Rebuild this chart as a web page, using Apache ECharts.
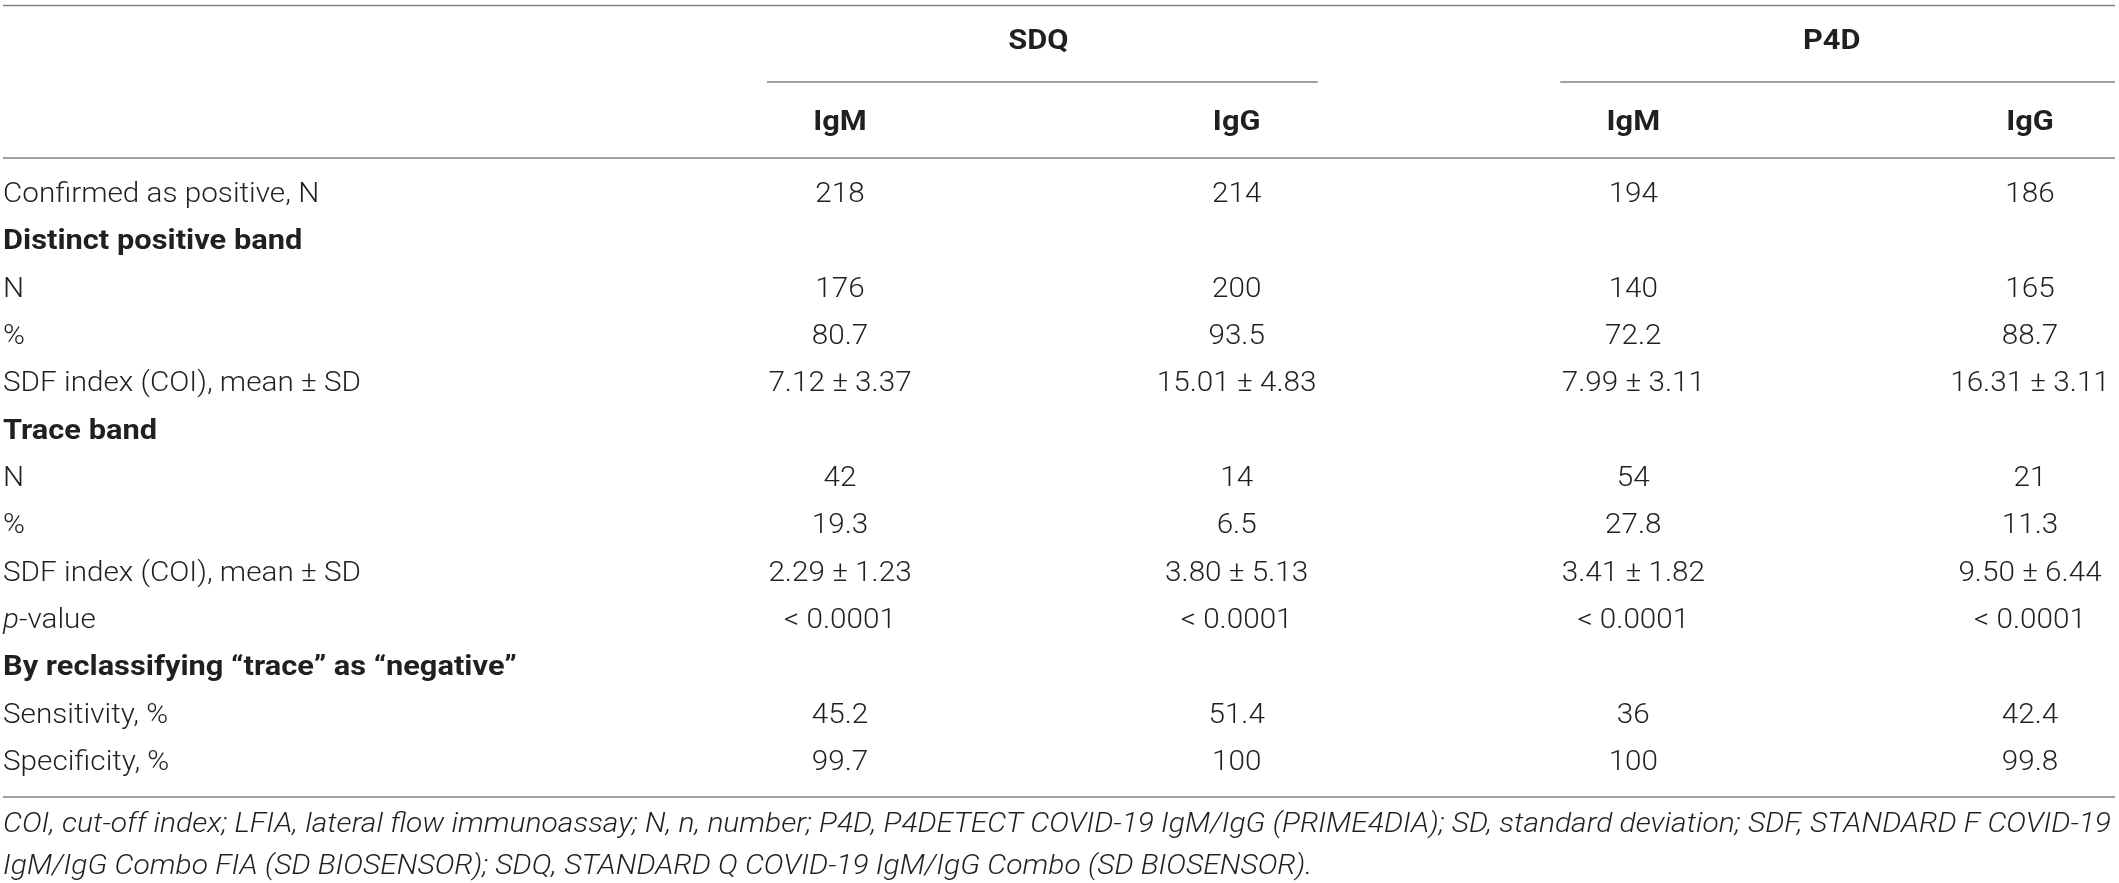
<!DOCTYPE html>
<html>
<head>
<meta charset="utf-8">
<script src="https://cdn.jsdelivr.net/npm/echarts@6/dist/echarts.min.js"></script>
<style>
html,body{margin:0;padding:0;background:#fff;}
#main{width:2119px;height:883px;}
</style>
</head>
<body>
<div id="main"></div>
<script>
// table content
var groups = ['SDQ', 'P4D'];
var columns = ['IgM', 'IgG', 'IgM', 'IgG'];
var rowLabels = [
    'Confirmed as positive, N',
    'Distinct positive band',
    'N',
    '%',
    'SDF index (COI), mean \u00b1 SD',
    'Trace band',
    'N',
    '%',
    'SDF index (COI), mean \u00b1 SD',
    '{i|p}-value',
    'By reclassifying \u201ctrace\u201d as \u201cnegative\u201d',
    'Sensitivity, %',
    'Specificity, %'
];
var boldRows = [1, 5, 10];
var sdqIgM = ['218', '', '176', '80.7', '7.12 \u00b1 3.37', '', '42', '19.3', '2.29 \u00b1 1.23', '< 0.0001', '', '45.2', '99.7'];
var sdqIgG = ['214', '', '200', '93.5', '15.01 \u00b1 4.83', '', '14', '6.5', '3.80 \u00b1 5.13', '< 0.0001', '', '51.4', '100'];
var p4dIgM = ['194', '', '140', '72.2', '7.99 \u00b1 3.11', '', '54', '27.8', '3.41 \u00b1 1.82', '< 0.0001', '', '36', '100'];
var p4dIgG = ['186', '', '165', '88.7', '16.31 \u00b1 3.11', '', '21', '11.3', '9.50 \u00b1 6.44', '< 0.0001', '', '42.4', '99.8'];
var footLines = [
    'COI, cut-off index; LFIA, lateral flow immunoassay; N, n, number; P4D, P4DETECT COVID-19 IgM/IgG (PRIME4DIA); SD, standard deviation; SDF, STANDARD F COVID-19',
    'IgM/IgG Combo FIA (SD BIOSENSOR); SDQ, STANDARD Q COVID-19 IgM/IgG Combo (SD BIOSENSOR).'
];

var FONT = 'Roboto, "Liberation Sans", sans-serif';
var TXT = '#231f20';
var LINE = '#808080';
// the original face is a little wider than Roboto, so stretch text sideways
var SX_LIGHT = 1.06, SX_BOLD = 1.1, SX_FOOT = 1.11;

var colValues = [sdqIgM, sdqIgG, p4dIgM, p4dIgG];
var cellData = [];
for (var c = 0; c < colValues.length; c++) {
    for (var r = 0; r < colValues[c].length; r++) {
        if (colValues[c][r] !== '') cellData.push([c, r, colValues[c][r]]);
    }
}
var labelData = [];
for (var i = 0; i < rowLabels.length; i++) labelData.push([0, i, rowLabels[i]]);

var myChart = echarts.init(document.getElementById('main'));

var option = {
    backgroundColor: '#fff',
    animation: false,
    grid: { left: 840, right: 89, top: 195, bottom: 120 },
    xAxis: {
        type: 'category',
        data: [0, 1, 2, 3],
        boundaryGap: false,
        show: false
    },
    yAxis: {
        type: 'category',
        data: rowLabels.map(function (d, i) { return i; }),
        inverse: true,
        boundaryGap: false,
        show: false
    },
    series: [{
        type: 'custom',
        data: cellData,
        renderItem: function (params, api) {
            var p = api.coord([api.value(0), api.value(1)]);
            return {
                type: 'text',
                x: p[0], y: p[1],
                scaleX: SX_LIGHT,
                style: {
                    text: cellData[params.dataIndex][2],
                    align: 'center', verticalAlign: 'middle',
                    font: '300 28px ' + FONT,
                    fill: TXT
                }
            };
        }
    }, {
        type: 'custom',
        data: labelData,
        renderItem: function (params, api) {
            var p = api.coord([0, api.value(1)]);
            var idx = params.dataIndex;
            var bold = boldRows.indexOf(idx) >= 0;
            return {
                type: 'text',
                x: 3, y: p[1],
                scaleX: bold ? SX_BOLD : SX_LIGHT,
                style: {
                    text: labelData[idx][2],
                    align: 'left', verticalAlign: 'middle',
                    font: (bold ? 'bold' : '300') + ' 28px ' + FONT,
                    fill: TXT,
                    rich: {
                        i: { font: 'italic 300 28px ' + FONT, fill: TXT }
                    }
                }
            };
        }
    }]
};
myChart.setOption(option);

// header and rules, placed from the axis positions
var colX = columns.map(function (d, i) { return myChart.convertToPixel({ gridIndex: 0 }, [i, 0])[0]; });
var firstRowY = myChart.convertToPixel({ gridIndex: 0 }, [0, 0])[1];
var lastRowY = myChart.convertToPixel({ gridIndex: 0 }, [0, rowLabels.length - 1])[1];
var gfx = [];
function rule(x1, x2, y) {
    gfx.push({ type: 'line', shape: { x1: x1, y1: y, x2: x2, y2: y }, style: { stroke: LINE, lineWidth: 1.5 } });
}
function txt(s, x, y, font, align, sx) {
    gfx.push({ type: 'text', x: x, y: y, scaleX: sx || 1, style: { text: s, font: font, fill: TXT, align: align || 'center', verticalAlign: 'middle' } });
}
rule(3, 2115, 5.5);
rule(3, 2115, firstRowY - 37);
rule(3, 2115, lastRowY + 34);
for (var g = 0; g < groups.length; g++) {
    var xa = colX[g * 2], xb = colX[g * 2 + 1];
    var mid = (xa + xb) / 2;
    txt(groups[g], mid, 42, 'bold 28px ' + FONT, 'center', SX_BOLD);
    rule(xa - 73, g === groups.length - 1 ? 2115 : xb + 81, 82);
}
for (var k = 0; k < columns.length; k++) {
    txt(columns[k], colX[k], 123, 'bold 28px ' + FONT, 'center', SX_BOLD);
}
for (var f = 0; f < footLines.length; f++) {
    txt(footLines[f], 3, lastRowY + 62 + f * 42, 'italic 300 27px ' + FONT, 'left', SX_FOOT);
}
myChart.setOption({ graphic: gfx });
</script>
</body>
</html>
